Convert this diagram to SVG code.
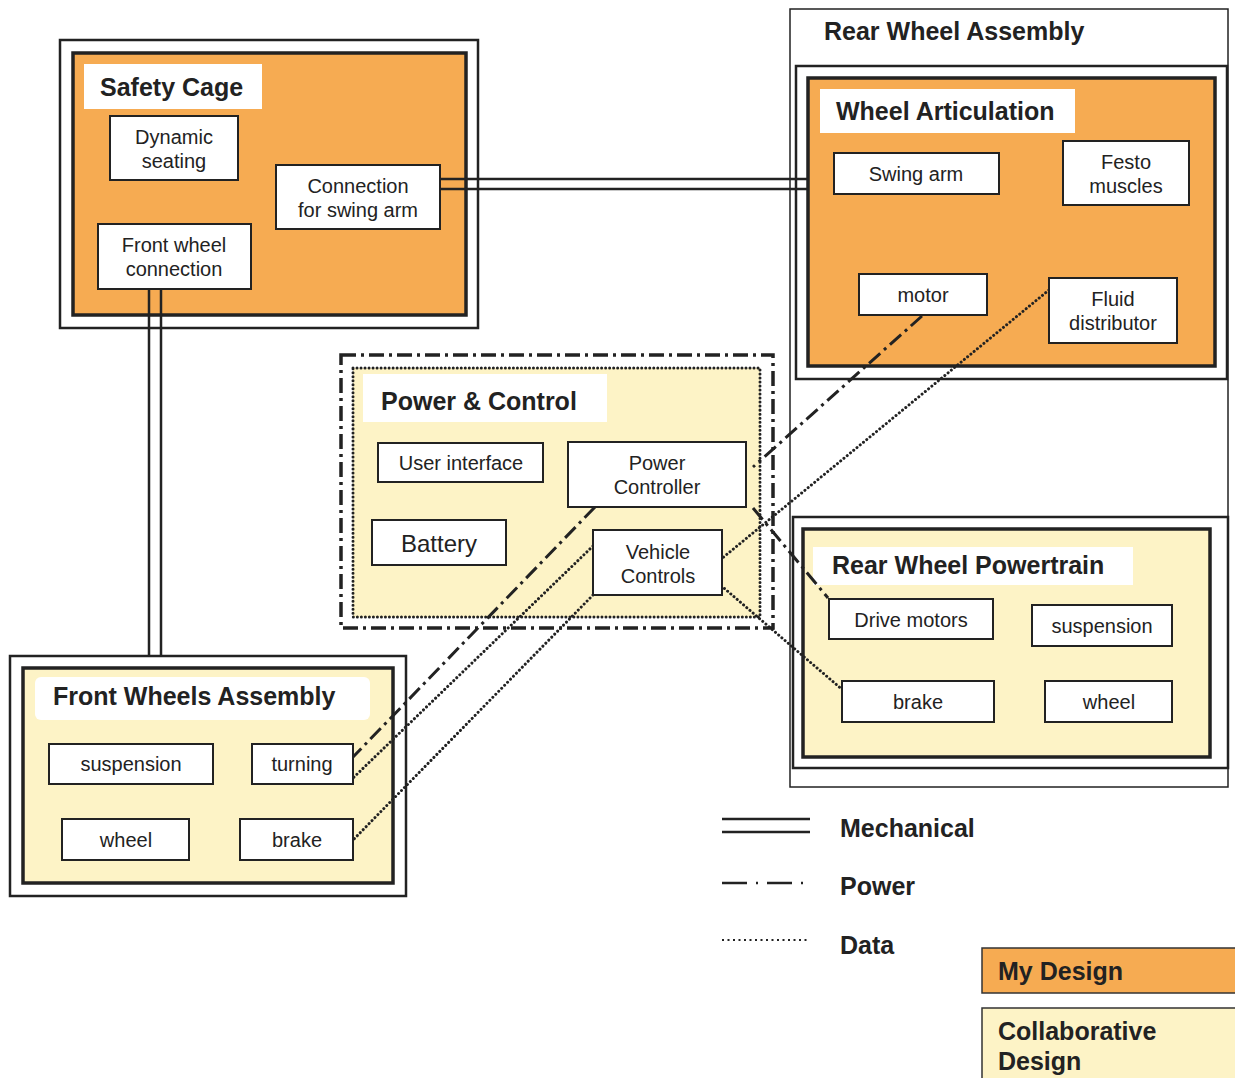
<svg xmlns="http://www.w3.org/2000/svg" width="1235" height="1078" viewBox="0 0 1235 1078">
<style>
  text{font-family:"Liberation Sans",Arial,sans-serif;fill:#222}
  .t{font-size:20px;text-anchor:middle}
  .h{font-size:25px;font-weight:bold}
  .node{fill:#fff;stroke:#222;stroke-width:2}
  .outer{fill:#fff;stroke:#222;stroke-width:2.5}
  .inner{stroke:#222;stroke-width:3.5}
  .my{fill:#F6AB52}
  .co{fill:#FDF3C6}
  .lbl{fill:#fff}
  .mech{stroke:#222;stroke-width:2.5;fill:none}
  .pow{stroke:#222;stroke-width:3;fill:none;stroke-dasharray:15 5 3 5}
  .dat{stroke:#222;stroke-width:3;fill:none;stroke-dasharray:0.01 4.2;stroke-linecap:round}
</style>
<rect width="1235" height="1078" fill="#fff"/>

<!-- Containers -->
<g id="rear-wheel-assembly">
  <rect x="790" y="9" width="438" height="778" fill="#fff" stroke="#222" stroke-width="1.5"/>
  <text class="h" x="824" y="40">Rear Wheel Assembly</text>
</g>
<g id="safety-cage">
  <rect class="outer" x="60" y="40" width="418" height="288"/>
  <rect class="inner my" x="73" y="53" width="393" height="262"/>
  <rect class="lbl" x="84" y="64" width="178" height="45"/>
  <text class="h" x="100" y="96">Safety Cage</text>
</g>
<g id="wheel-articulation">
  <rect class="outer" x="796" y="66" width="431" height="313"/>
  <rect class="inner my" x="808" y="78" width="407" height="288"/>
  <rect class="lbl" x="820" y="89" width="255" height="44"/>
  <text class="h" x="836" y="120">Wheel Articulation</text>
</g>
<g id="power-control">
  <rect x="341" y="355" width="432" height="273" fill="#fff" stroke="#222" stroke-width="3.5" stroke-dasharray="15 5 3 5"/>
  <rect class="co" x="353" y="368" width="407" height="249" stroke="#222" stroke-width="3" stroke-dasharray="0.01 4" stroke-linecap="round"/>
  <rect class="lbl" x="363" y="374" width="244" height="48"/>
  <text class="h" x="381" y="410">Power &amp; Control</text>
</g>
<g id="rear-wheel-powertrain">
  <rect class="outer" x="793" y="517" width="435" height="251"/>
  <rect class="inner co" x="803" y="529" width="407" height="228"/>
  <rect class="lbl" x="813" y="547" width="320" height="38"/>
  <text class="h" x="832" y="574">Rear Wheel Powertrain</text>
</g>
<g id="front-wheels-assembly">
  <rect class="outer" x="10" y="656" width="396" height="240"/>
  <rect class="inner co" x="23" y="668" width="370" height="215"/>
  <rect class="lbl" x="35" y="677" width="335" height="43" rx="6"/>
  <text class="h" x="53" y="705">Front Wheels Assembly</text>
</g>

<!-- Connectors -->
<g id="connectors">
  <!-- Mechanical -->
  <line class="mech" x1="440" y1="179" x2="808" y2="179"/>
  <line class="mech" x1="440" y1="189" x2="808" y2="189"/>
  <line class="mech" x1="149" y1="289" x2="149" y2="656"/>
  <line class="mech" x1="161" y1="289" x2="161" y2="656"/>
  <!-- Power -->
  <line class="pow" x1="922" y1="316" x2="753" y2="467"/>
  <line class="pow" x1="753" y1="508" x2="828" y2="598"/>
  <line class="pow" x1="595" y1="507" x2="353" y2="757"/>
  <!-- Data -->
  <line class="dat" x1="1049" y1="290" x2="720" y2="560"/>
  <line class="dat" x1="718" y1="583" x2="845" y2="692"/>
  <line class="dat" x1="593" y1="546" x2="353" y2="778"/>
  <line class="dat" x1="593" y1="595" x2="353" y2="840"/>
</g>

<!-- Nodes -->
<g id="dynamic-seating"><rect class="node" x="110" y="116" width="128" height="64"/><text class="t" x="174" y="144">Dynamic</text><text class="t" x="174" y="168">seating</text></g>
<g id="connection-swing-arm"><rect class="node" x="276" y="165" width="164" height="64"/><text class="t" x="358" y="193">Connection</text><text class="t" x="358" y="217">for swing arm</text></g>
<g id="front-wheel-connection"><rect class="node" x="98" y="224" width="153" height="65"/><text class="t" x="174" y="252">Front wheel</text><text class="t" x="174" y="276">connection</text></g>

<g id="swing-arm"><rect class="node" x="834" y="153" width="165" height="41"/><text class="t" x="916" y="181">Swing arm</text></g>
<g id="festo-muscles"><rect class="node" x="1063" y="141" width="126" height="64"/><text class="t" x="1126" y="169">Festo</text><text class="t" x="1126" y="193">muscles</text></g>
<g id="motor"><rect class="node" x="859" y="274" width="128" height="41"/><text class="t" x="923" y="302">motor</text></g>
<g id="fluid-distributor"><rect class="node" x="1049" y="278" width="128" height="65"/><text class="t" x="1113" y="306">Fluid</text><text class="t" x="1113" y="330">distributor</text></g>

<g id="user-interface"><rect class="node" x="378" y="443" width="165" height="39"/><text class="t" x="461" y="470">User interface</text></g>
<g id="power-controller"><rect class="node" x="568" y="442" width="178" height="65"/><text class="t" x="657" y="470">Power</text><text class="t" x="657" y="494">Controller</text></g>
<g id="battery"><rect class="node" x="372" y="520" width="134" height="45"/><text x="439" y="552" style="font-size:24px;text-anchor:middle">Battery</text></g>
<g id="vehicle-controls"><rect class="node" x="593" y="530" width="129" height="65"/><text class="t" x="658" y="559">Vehicle</text><text class="t" x="658" y="583">Controls</text></g>

<g id="drive-motors"><rect class="node" x="829" y="599" width="164" height="40"/><text class="t" x="911" y="627">Drive motors</text></g>
<g id="rear-suspension"><rect class="node" x="1032" y="605" width="140" height="41"/><text class="t" x="1102" y="633">suspension</text></g>
<g id="rear-brake"><rect class="node" x="842" y="681" width="152" height="41"/><text class="t" x="918" y="709">brake</text></g>
<g id="rear-wheel"><rect class="node" x="1045" y="681" width="127" height="41"/><text class="t" x="1109" y="709">wheel</text></g>

<g id="front-suspension"><rect class="node" x="49" y="744" width="164" height="40"/><text class="t" x="131" y="771">suspension</text></g>
<g id="turning"><rect class="node" x="252" y="744" width="101" height="40"/><text class="t" x="302" y="771">turning</text></g>
<g id="front-wheel"><rect class="node" x="62" y="819" width="127" height="41"/><text class="t" x="126" y="847">wheel</text></g>
<g id="front-brake"><rect class="node" x="240" y="819" width="113" height="41"/><text class="t" x="297" y="847">brake</text></g>

<!-- Legend -->
<g id="legend">
  <line class="mech" x1="722" y1="819" x2="810" y2="819"/>
  <line class="mech" x1="722" y1="832" x2="810" y2="832"/>
  <text class="h" x="840" y="837">Mechanical</text>
  <line x1="722" y1="883" x2="810" y2="883" stroke="#222" stroke-width="2.5" stroke-dasharray="25 9 2 9"/>
  <text class="h" x="840" y="895">Power</text>
  <line x1="722" y1="940" x2="808" y2="940" stroke="#222" stroke-width="2.2" stroke-dasharray="2 3.5"/>
  <text class="h" x="840" y="954">Data</text>
  <rect x="982" y="948" width="260" height="45" class="my" stroke="#333" stroke-width="1.5"/>
  <text class="h" x="998" y="980">My Design</text>
  <rect x="982" y="1008" width="260" height="80" class="co" stroke="#333" stroke-width="1.5"/>
  <text class="h" x="998" y="1070" dy="-30">Collaborative</text>
  <text class="h" x="998" y="1070">Design</text>
</g>
</svg>
